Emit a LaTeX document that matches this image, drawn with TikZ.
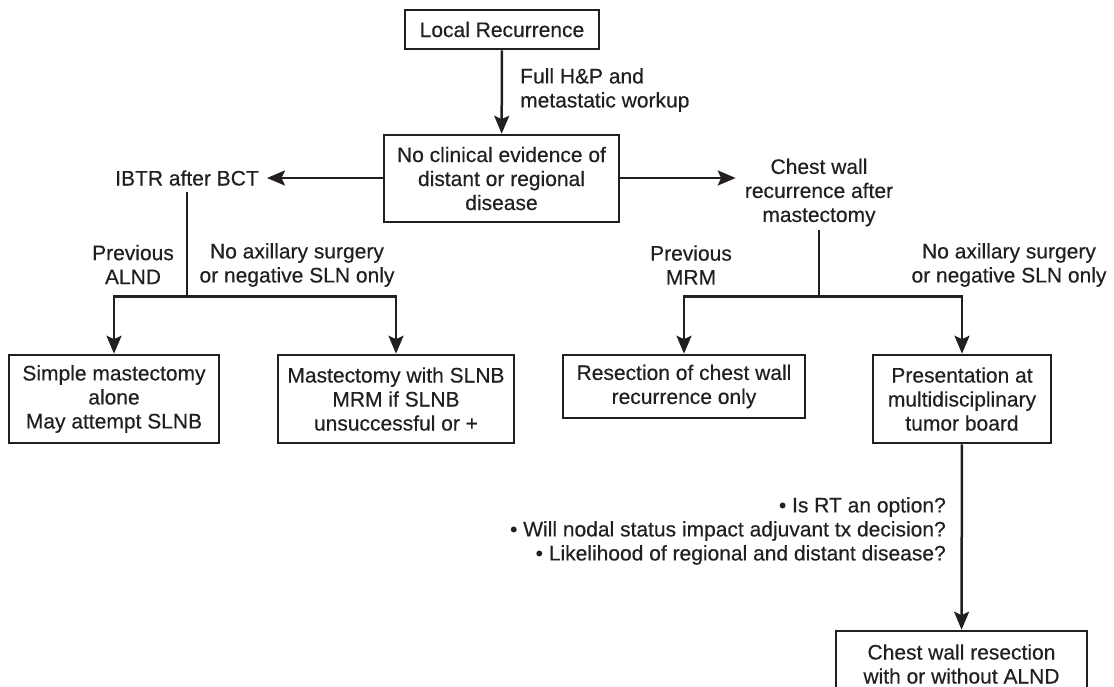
\documentclass[tikz,border=0pt]{standalone}
\usepackage{fontspec}
\setmainfont{Liberation Sans}
\newfontfamily\inkfont{Liberation Sans}[FakeBold=0.4]
\usetikzlibrary{arrows.meta}
\definecolor{ink}{HTML}{231F20}
\begin{document}
\begin{tikzpicture}[x=1pt,y=-1pt,
  every node/.style={font=\inkfont\fontsize{21}{24}\selectfont, text=ink, align=center},
  box/.style={draw=ink, line width=2.6pt, inner sep=0pt},
  lbl/.style={inner sep=0pt},
  conn/.style={draw=ink, line width=2.5pt},
  arr/.style={conn, -{Stealth[length=18pt,width=15pt,inset=3.5pt]}}]
\useasboundingbox (0,0) rectangle (1114,686);
\clip (0,0) rectangle (1114,686);

% boxes
\node[box, minimum width=194pt, minimum height=39pt] (lr) at (502,29.5) {Local Recurrence};
\node[box, minimum width=235pt, minimum height=87pt] (nce) at (501.5,178.5) {No clinical evidence of\\distant or regional\\disease};
\node[box, minimum width=210pt, minimum height=88pt] (b1) at (114,399) {Simple mastectomy\\alone\\May attempt SLNB};
\node[box, minimum width=236pt, minimum height=88pt] (b2) at (396,399) {Mastectomy with SLNB\\MRM if SLNB\\unsuccessful or +};
\node[box, minimum width=242pt, minimum height=63pt] (b3) at (684,386.5) {Resection of chest wall\\recurrence only};
\node[box, minimum width=178pt, minimum height=88pt] (b4) at (962,399) {Presentation at\\multidisciplinary\\tumor board};
\node[box, minimum width=251pt, minimum height=66pt] (b5) at (961.5,664) {Chest wall resection\\with or without ALND};

% plain text nodes
\node[inner xsep=8pt, inner ysep=6.5pt] (ibtr) at (187,178) {IBTR after BCT};
\node[inner xsep=9pt, inner ysep=4pt] (cw) at (819,192.5) {Chest wall\\recurrence after\\mastectomy};
\node[lbl, anchor=west, align=left] (hp) at (520,90) {Full H\&P and\\metastatic workup};
\node[lbl] (pa) at (133,264.5) {Previous\\ALND};
\node[lbl] (na1) at (297,265) {No axillary surgery\\or negative SLN only};
\node[lbl] (pm) at (691,265) {Previous\\MRM};
\node[lbl] (na2) at (1009,265) {No axillary surgery\\or negative SLN only};
\node[lbl, anchor=east, align=right] (q) at (946,531) {\textbullet\ Is RT an option?\\\textbullet\ Will nodal status impact adjuvant tx decision?\\\textbullet\ Likelihood of regional and distant disease?};

% junctions
\coordinate (j1) at (187,296.5);
\coordinate (j2) at (819,296.5);

% connectors
\draw[arr] (lr) -- (nce);
\draw[arr] (nce.west |- 0,178) -- (ibtr.east |- 0,178);
\draw[arr] (nce.east |- 0,178) -- (cw.west |- 0,178);
\draw[conn] (ibtr.south) -- (j1);
\draw[arr] (j1) -| (b1.north);
\draw[arr] (j1) -| (b2.north);
\draw[conn] (cw.south) -- (j2);
\draw[arr] (j2) -| (b3.north);
\draw[arr] (j2) -| (b4.north);
\draw[arr] (b4) -- (b5);
\end{tikzpicture}
\end{document}
